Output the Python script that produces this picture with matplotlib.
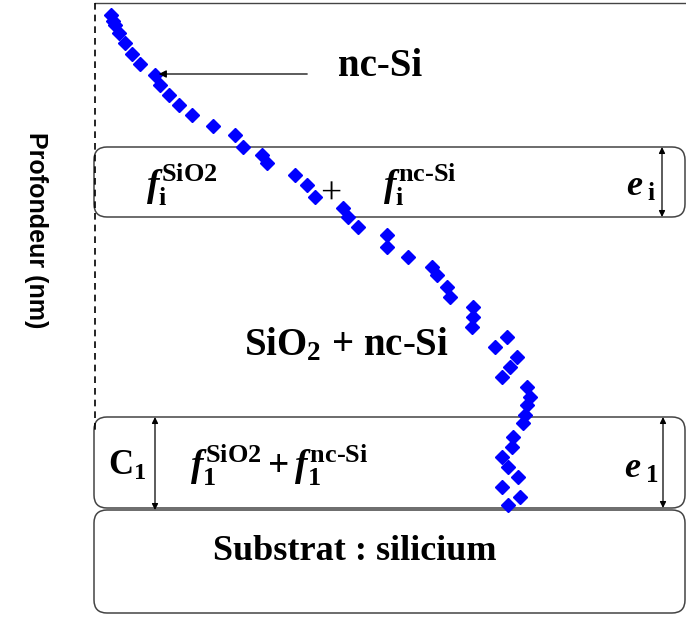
import matplotlib

matplotlib.use("Agg")

import matplotlib.pyplot as plt
from matplotlib.patches import FancyBboxPatch

plt.rcParams["mathtext.fontset"] = "custom"
plt.rcParams["mathtext.rm"] = "Liberation Serif:bold"
plt.rcParams["mathtext.it"] = "Liberation Serif:italic:bold"
plt.rcParams["mathtext.bf"] = "Liberation Serif:bold"

# depth profile (pixel units, depth grows downward)
profile_x = [111, 113, 115, 119, 125, 132, 140, 155, 160, 169, 179, 192, 213,
             235, 243, 262, 267, 295, 307, 315, 343, 348, 358, 387, 387, 408,
             432, 437, 447, 450, 473, 473, 472, 507, 495, 517, 510, 502, 527,
             530, 527, 525, 523, 513, 512, 502, 508, 518, 502, 520, 508]
profile_depth = [15, 21, 25, 33, 43, 54, 64, 75, 85, 95, 105, 115, 126,
                 135, 147, 155, 163, 175, 185, 197, 208, 217, 227, 235, 247, 257,
                 267, 275, 287, 297, 307, 317, 327, 337, 347, 357, 367, 377, 387,
                 397, 405, 415, 423, 437, 447, 457, 467, 477, 487, 497, 505]

# layers: (top, bottom)
layer_i = (147, 217)
layer_1 = (417, 508)
substrate = (510, 613)

W, H = 686, 619
fig = plt.figure(figsize=(W / 100, H / 100), dpi=100)
ax = fig.add_axes([0, 0, 1, 1])
ax.set_xlim(0, W)
ax.set_ylim(H, 0)
ax.axis("off")

left, right = 94, 685
for top, bottom in (layer_i, layer_1, substrate):
    box = FancyBboxPatch((left, top), right - left, bottom - top,
                         boxstyle="round,pad=0,rounding_size=13",
                         fc="none", ec="#444444", lw=1.1, zorder=1)
    ax.add_patch(box)

ax.plot([left + 1, W], [3, 3], color="#444444", lw=1.0, zorder=1)
ax.plot([left + 1, left + 1], [3, 432], color="black", lw=1.2, ls=(0, (4, 3)), zorder=1)

ax.plot(profile_x, profile_depth, ls="none", marker="D", ms=7.5,
        color="#0000ff", mec="#0000ff", zorder=3)

# arrows
ax.annotate("", xy=(156, 74), xytext=(310, 74),
            arrowprops=dict(arrowstyle="-|>", color="black", lw=0.9, mutation_scale=11))
for x, (top, bottom) in ((662, layer_i), (663, layer_1), (155, layer_1)):
    ax.annotate("", xy=(x, top), xytext=(x, bottom + (2 if x == 155 else 0)),
                arrowprops=dict(arrowstyle="<|-|>", color="black", lw=0.9,
                                mutation_scale=9, shrinkA=0, shrinkB=0))

serif = "Liberation Serif"
ax.text(380, 67, "nc-Si", fontsize=28, fontweight="bold", family=serif,
        ha="center", va="center")
ax.text(146, 185, r"$f_{\mathrm{i}}^{\mathrm{SiO2}}$", fontsize=27, ha="left", va="center")
ax.text(331, 194, "+", fontsize=27, family=serif, ha="center", va="center")
ax.text(383, 185, r"$f_{\mathrm{i}}^{\mathrm{nc\text{-}Si}}$", fontsize=27, ha="left", va="center")
ax.text(641, 186, r"$e_{\;\mathrm{i}}$", fontsize=26, ha="center", va="center")

ax.text(346, 345, r"SiO$_{2}$ + nc-Si", fontsize=28, fontweight="bold", family=serif,
        ha="center", va="center")

ax.text(127, 466, r"C$_{1}$", fontsize=25, fontweight="bold", family=serif,
        ha="center", va="center")
ax.text(190, 465, r"$f_{1}^{\mathrm{SiO2}} + f_{1}^{\mathrm{nc\text{-}Si}}$",
        fontsize=27, ha="left", va="center")
ax.text(641, 468, r"$e_{\;1}$", fontsize=26, ha="center", va="center")

ax.text(355, 552, "Substrat : silicium", fontsize=26, fontweight="bold", family=serif,
        ha="center", va="center")

ax.text(36, 230, "Profondeur (nm)", fontsize=18, fontweight="bold",
        family="Liberation Sans", rotation=270, ha="center", va="center")

fig.savefig("out.png", dpi=100)
